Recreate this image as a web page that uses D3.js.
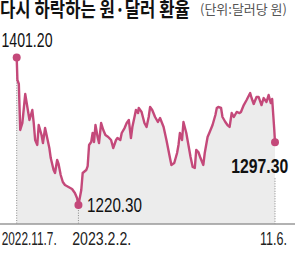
<!DOCTYPE html>
<html>
<head>
<meta charset="utf-8">
<script src="https://cdn.jsdelivr.net/npm/d3@7"></script>
<style>
  body { margin: 0; background: #fff; }
  svg { display: block; }
</style>
</head>
<body>
<svg id="chart"></svg>
<script>
const startDate = '2022-11-07';
// days since startDate
const dayOffsets = [0, 1, 3, 5, 8, 12, 15, 18, 22, 24,
  26, 29, 31, 35, 37, 40, 43, 46, 48, 52,
  54, 57, 59, 62, 65, 68, 73, 78, 82, 85,
  87, 91, 93, 98, 100, 102, 105, 107, 109, 111,
  114, 116, 119, 122, 125, 129, 133, 136, 140, 142,
  146, 148, 152, 155, 158, 161, 163, 166, 168, 171,
  172, 176, 180, 183, 186, 188, 191, 195, 199, 202,
  207, 211, 216, 218, 222, 226, 228, 230, 233, 235,
  239, 242, 245, 248, 251, 253, 256, 259, 263, 265,
  269, 272, 276, 280, 282, 284, 288, 290, 294, 297,
  300, 303, 306, 310, 314, 316, 320, 324, 329, 331,
  334, 338, 341, 345, 348, 352, 355, 358, 360, 363,
  364];
// won per dollar
const rates = [1401.2, 1373.7, 1368.8, 1312.4, 1321.0, 1356.5, 1340.6, 1324.6, 1336.9, 1321.0,
  1300.1, 1294.0, 1318.5, 1306.2, 1296.4, 1314.8, 1302.6, 1290.3, 1278.0, 1263.3,
  1259.7, 1275.6, 1270.7, 1257.2, 1248.6, 1244.9, 1242.5, 1240.0, 1235.1, 1229.0,
  1220.3, 1238.8, 1259.7, 1263.3, 1268.2, 1294.0, 1297.7, 1308.7, 1297.7, 1318.5,
  1303.8, 1296.4, 1321.0, 1312.4, 1306.2, 1303.8, 1300.1, 1290.3, 1300.1, 1302.6,
  1300.1, 1308.7, 1314.8, 1321.0, 1324.6, 1302.6, 1316.1, 1328.3, 1336.9, 1333.2,
  1339.4, 1334.5, 1321.0, 1316.1, 1328.3, 1340.6, 1336.9, 1328.3, 1322.2, 1327.1,
  1316.1, 1300.1, 1278.0, 1269.5, 1271.9, 1284.2, 1294.0, 1308.7, 1300.1, 1322.2,
  1308.7, 1294.0, 1279.3, 1267.0, 1265.8, 1287.9, 1285.4, 1278.0, 1269.5, 1284.2,
  1303.8, 1309.9, 1318.5, 1330.8, 1339.4, 1340.6, 1339.4, 1328.3, 1322.2, 1318.5,
  1316.1, 1333.2, 1328.3, 1334.5, 1333.2, 1334.5, 1343.0, 1349.2, 1357.7, 1351.6,
  1344.3, 1352.8, 1352.8, 1343.0, 1351.6, 1346.7, 1355.3, 1345.5, 1350.4, 1312.4,
  1297.3];
const tickDates = ['2022-11-07', '2023-02-02', '2023-11-06'];
const tickLabels = ['2022.11.7.', '2023.2.2.', '11.6.'];
const titleText = '다시 하락하는 원·달러 환율';
const unitText = '(단위:달러당 원)';

const W = 300;
const H = 264;
const LINE_COLOR = '#c4497a';
const NUM_FONT = "'Liberation Sans', Arial, sans-serif";
const KR_FONT = "'Noto Sans CJK KR', 'Noto Sans', sans-serif";

const parse = d3.utcParse('%Y-%m-%d');
const t0 = parse(startDate);
const data = dayOffsets.map((d, i) => ({ date: d3.utcDay.offset(t0, d), v: rates[i] }));

const svg = d3.select('#chart').attr('width', W).attr('height', H);

const x = d3.scaleUtc([parse(tickDates[0]), parse(tickDates[2])], [16.7, 275]);
const y = d3.scaleLinear([1197, 1410], [224.1, 50.4]);
const baseY = y.range()[0];

// the print font is very condensed: squeeze each label to its width
function squeeze(sel, px, py, width, anchor) {
  const w = sel.node().getComputedTextLength();
  const s = width / w;
  const left = anchor === 'end' ? px - width : px;
  sel.attr('transform', `translate(${left},${py}) scale(${s},1)`);
}

/* title */
svg.append('text')
  .attr('font-family', KR_FONT).attr('font-weight', 700).attr('font-size', 20)
  .attr('fill', '#111')
  .text(titleText)
  .call(squeeze, 0, 17, 190, 'start');
svg.append('text')
  .attr('font-family', KR_FONT).attr('font-size', 13)
  .attr('fill', '#555')
  .text(unitText)
  .call(squeeze, 200, 13.5, 87, 'start');

/* area + line */
svg.append('path')
  .datum(data)
  .attr('fill', '#ececec')
  .attr('d', d3.area().x((d) => x(d.date)).y0(baseY).y1((d) => y(d.v)));

const first = data[0];
const last = data[data.length - 1];
const low = data.reduce((a, b) => (b.v < a.v ? b : a));

/* dotted guides */
const guides = [
  { p: first, top: y(first.v) },
  { p: low, top: y(low.v) },
  { p: last, top: y(last.v) + 36 }
];
svg.append('g')
  .selectAll('line')
  .data(guides)
  .join('line')
  .attr('x1', (d) => x(d.p.date)).attr('x2', (d) => x(d.p.date))
  .attr('y1', (d) => d.top).attr('y2', baseY)
  .attr('stroke', '#888').attr('stroke-width', 1)
  .attr('stroke-dasharray', '1,1.5');

svg.append('path')
  .datum(data)
  .attr('fill', 'none')
  .attr('stroke', LINE_COLOR)
  .attr('stroke-width', 2.4)
  .attr('stroke-linejoin', 'round')
  .attr('d', d3.line().x((d) => x(d.date)).y((d) => y(d.v)));

svg.append('g')
  .selectAll('circle')
  .data([first, low, last])
  .join('circle')
  .attr('cx', (d) => x(d.date)).attr('cy', (d) => y(d.v))
  .attr('r', 4)
  .attr('fill', LINE_COLOR);

/* axis line */
svg.append('line')
  .attr('x1', 0).attr('x2', 295)
  .attr('y1', baseY).attr('y2', baseY)
  .attr('stroke', '#999').attr('stroke-width', 1.5);

/* value labels */
const fmt = d3.format('.2f');
const valueLabels = [
  { p: first, dx: -15.2, dy: -11, anchor: 'start', width: 51, weight: 400 },
  { p: low, dx: 8.6, dy: 7, anchor: 'start', width: 55, weight: 400 },
  { p: last, dx: 13.3, dy: 30.7, anchor: 'end', width: 57, weight: 700 }
];
const valueG = svg.append('g');
valueLabels.forEach((d) => {
  valueG.append('text')
    .attr('font-family', NUM_FONT).attr('font-size', 20)
    .attr('font-weight', d.weight)
    .attr('fill', '#111')
    .text(fmt(d.p.v))
    .call(squeeze, x(d.p.date) + d.dx, y(d.p.v) + d.dy, d.width, d.anchor);
});

/* date labels */
const tickLayout = [
  { dx: -15, anchor: 'start', width: 55 },
  { dx: -6.2, anchor: 'start', width: 59 },
  { dx: 12, anchor: 'end', width: 27 }
];
const tickG = svg.append('g');
tickDates.forEach((d, i) => {
  tickG.append('text')
    .attr('font-family', NUM_FONT).attr('font-size', 18)
    .attr('fill', '#222')
    .text(tickLabels[i])
    .call(squeeze, x(parse(d)) + tickLayout[i].dx, 245, tickLayout[i].width, tickLayout[i].anchor);
});
</script>
</body>
</html>
